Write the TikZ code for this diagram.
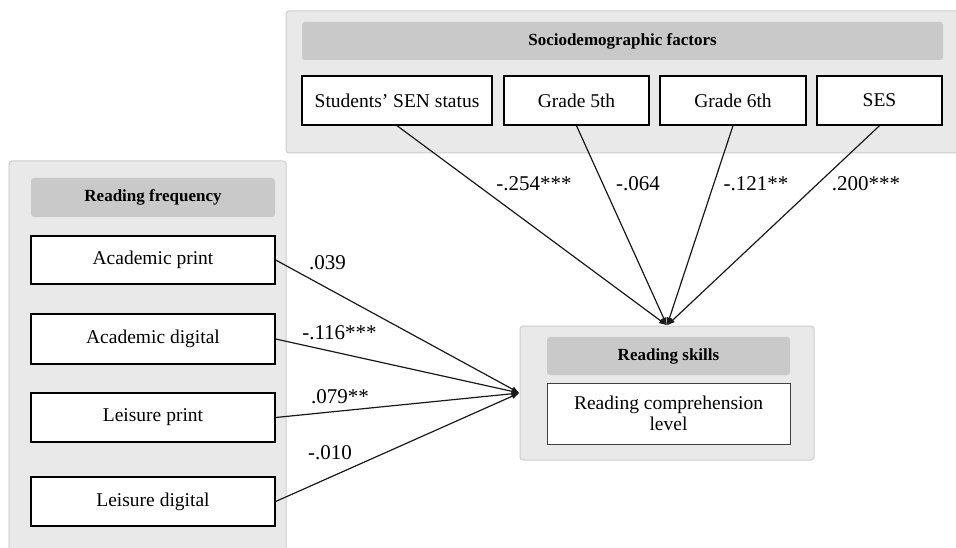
\documentclass[tikz,border=0pt]{standalone}
\usepackage{fontspec}
\setmainfont{Liberation Serif}
\usetikzlibrary{arrows.meta}
\definecolor{panelfill}{HTML}{E9E9E9}
\definecolor{panelline}{HTML}{CDCDCD}
\definecolor{headfill}{HTML}{C9C9C9}
\tikzset{
  panel/.style={draw=panelline, fill=panelfill, line width=1pt, rounded corners=3pt},
  headbar/.style={fill=headfill, rounded corners=3pt, inner sep=0pt, font=\fontsize{17}{20}\selectfont\bfseries},
  varbox/.style={draw=black, fill=white, line width=1.4pt, inner sep=0pt, font=\fontsize{19.5}{22}\selectfont, align=center},
  path/.style={draw=black!90, line width=1.2pt, -{Latex[length=8pt,width=6pt]}},
  coef/.style={font=\fontsize{21}{24}\selectfont, inner sep=0pt}
}
\begin{document}
\begin{tikzpicture}[x=1pt,y=-1pt]
\useasboundingbox (0,0) rectangle (956,548);
% panels
\path[panel] (286,11) rectangle (962,153);
\path[panel] (9,161) rectangle (286,556);
\node[panel, inner sep=0pt, minimum width=294pt, minimum height=134pt] (rs) at (667,393) {};
% headers
\node[headbar, minimum width=641pt, minimum height=38pt] (hsd) at (622.5,41) {Sociodemographic factors};
\node[headbar, minimum width=244pt, minimum height=39pt] (hrf) at (153,197.5) {Reading frequency};
\node[headbar, minimum width=243pt, minimum height=38pt] (hrs) at (668.5,356) {Reading skills};
% top boxes
\node[varbox, minimum width=190pt, minimum height=49pt] (sen) at (397,100.5) {Students’ SEN status};
\node[varbox, minimum width=145pt, minimum height=49pt] (g5) at (576.5,100.5) {Grade 5th};
\node[varbox, minimum width=146pt, minimum height=49pt] (g6) at (733,100.5) {Grade 6th};
\node[varbox, minimum width=125pt, minimum height=49pt] (ses) at (879.5,100.5) {SES};
% left boxes
\node[varbox, minimum width=244pt, minimum height=48pt] (ap) at (153,260) {Academic print};
\node[varbox, minimum width=244pt, minimum height=50pt] (ad) at (153,339) {Academic digital};
\node[varbox, minimum width=244pt, minimum height=49pt] (lp) at (153,417.5) {Leisure print};
\node[varbox, minimum width=244pt, minimum height=49pt] (ld) at (153,501.5) {Leisure digital};
% outcome box
\node[varbox, line width=1pt, draw=black!75, minimum width=243pt, minimum height=61pt, font=\fontsize{19.5}{21}\selectfont] (rc) at (668.5,413.5) {Reading comprehension\\level};
% connectors
\draw[path] (sen.south) -- (rs.north);
\draw[path] (g5.south) -- (rs.north);
\draw[path] (g6.south) -- (rs.north);
\draw[path] (ses.south) -- (rs.north);
\draw[path] (ap.east) -- (rs.west);
\draw[path] (ad.east) -- (rs.west);
\draw[path] (lp.east) -- (rs.west);
\draw[path] (ld.east) -- (rs.west);
% coefficients
\node[coef] (c1) at (534,184) {-.254***};
\node[coef] (c2) at (638,184) {-.064};
\node[coef] (c3) at (756,184) {-.121**};
\node[coef] (c4) at (866,184) {.200***};
\node[coef] (c5) at (327.5,263) {.039};
\node[coef] (c6) at (339.5,333) {-.116***};
\node[coef] (c7) at (340,397) {.079**};
\node[coef] (c8) at (330,453) {-.010};
\end{tikzpicture}
\end{document}
